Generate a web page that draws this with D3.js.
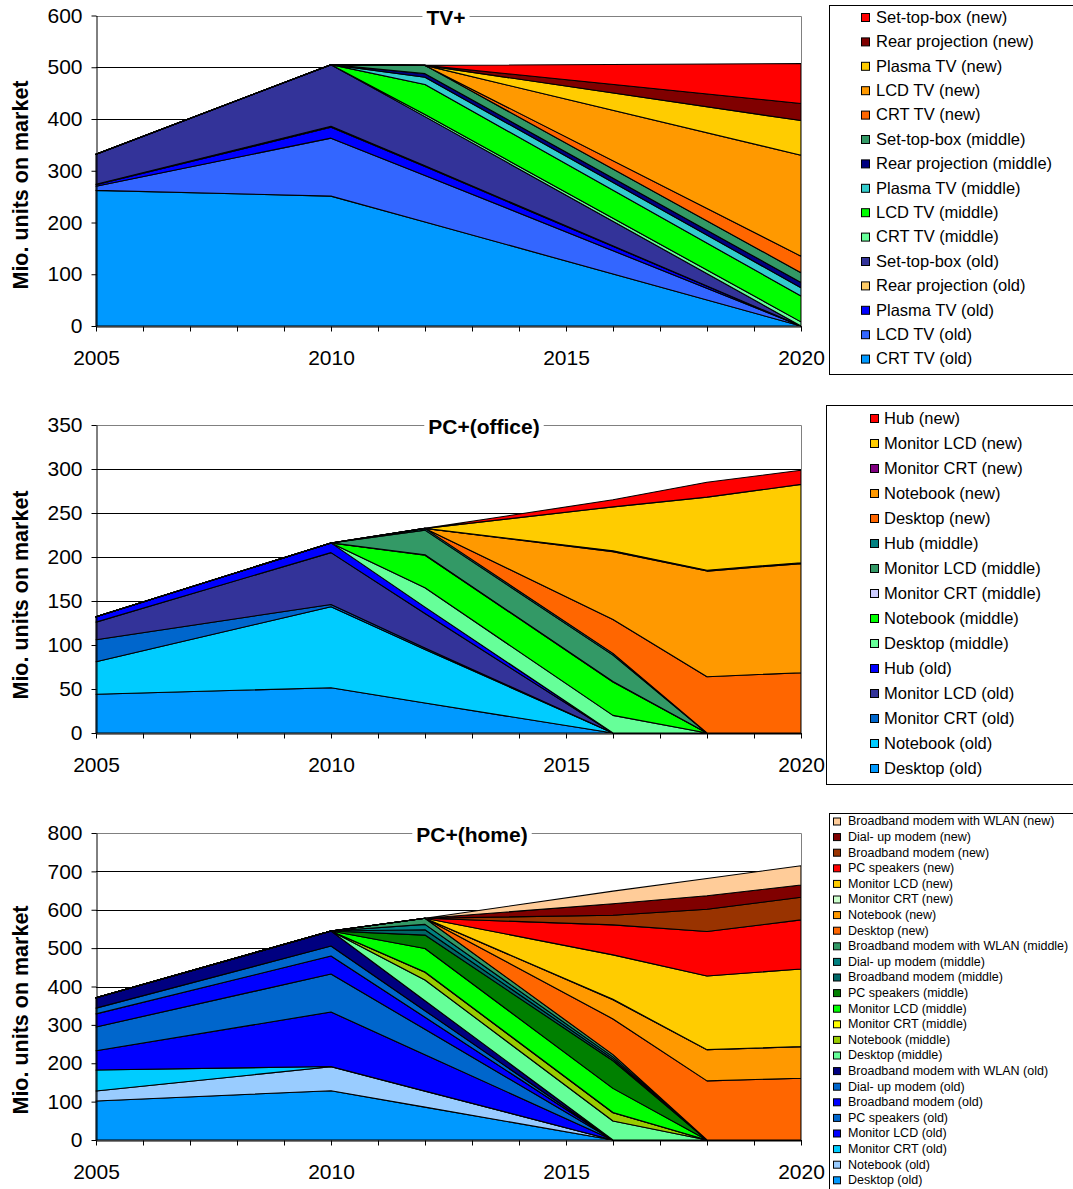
<!DOCTYPE html>
<html>
<head>
<meta charset="utf-8">
<script src="https://cdn.jsdelivr.net/npm/d3@7"></script>
<style>
body { margin: 0; background: #fff; }
svg text { font-family: "Liberation Sans", Arial, sans-serif; fill: #000; }
</style>
</head>
<body>
<svg id="chart" width="1073" height="1189"></svg>
<script>
// ---- TV+ (stack order: bottom first) ----
var tvYears = [2005, 2010, 2012, 2020];
var tvNames = ['CRT TV (old)', 'LCD TV (old)', 'Plasma TV (old)', 'Rear projection (old)', 'Set-top-box (old)',
    'CRT TV (middle)', 'LCD TV (middle)', 'Plasma TV (middle)', 'Rear projection (middle)', 'Set-top-box (middle)',
    'CRT TV (new)', 'LCD TV (new)', 'Plasma TV (new)', 'Rear projection (new)', 'Set-top-box (new)'];
var tvValues = [
    [262, 251, 201, 0],
    [8, 112, 90, 0],
    [3, 21, 17, 0],
    [1, 2, 1.6, 0],
    [58, 119, 95, 0],
    [0, 0, 4, 8],
    [0, 0, 58, 50],
    [0, 0, 14, 16],
    [0, 0, 7, 10],
    [0, 0, 16, 19],
    [0, 0, 0, 32],
    [0, 0, 0, 195],
    [0, 0, 0, 67],
    [0, 0, 0, 33],
    [0, 0, 0, 77]
];
var tvColors = ['#0099FF', '#3366FF', '#0000FF', '#FFCC66', '#333399', '#66FF99', '#00FF00', '#33CCCC',
    '#000080', '#339966', '#FF6600', '#FF9900', '#FFCC00', '#800000', '#FF0000'];

// ---- PC+(office) ----
var officeYears = [2005, 2010, 2012, 2016, 2018, 2020];
var officeNames = ['Desktop (old)', 'Notebook (old)', 'Monitor CRT (old)', 'Monitor LCD (old)', 'Hub (old)',
    'Desktop (middle)', 'Notebook (middle)', 'Monitor CRT (middle)', 'Monitor LCD (middle)', 'Hub (middle)',
    'Desktop (new)', 'Notebook (new)', 'Monitor CRT (new)', 'Monitor LCD (new)', 'Hub (new)'];
var officeValues = [
    [44, 51.5, 34, 0, 0, 0],
    [37, 92, 61, 0, 0, 0],
    [25, 2.5, 1.7, 0, 0, 0],
    [20, 59, 39, 0, 0, 0],
    [6, 11, 7.3, 0, 0, 0],
    [0, 0, 22, 20, 0, 0],
    [0, 0, 37, 38, 0, 0],
    [0, 0, 0.5, 0.5, 0, 0],
    [0, 0, 28, 30, 0, 0],
    [0, 0, 2, 2, 0, 0],
    [0, 0, 0, 38.5, 64, 68.5],
    [0, 0, 0, 77, 120, 124],
    [0, 0, 0, 1, 1, 1],
    [0, 0, 0, 50, 83, 89],
    [0, 0, 0, 8, 17, 16]
];
var officeColors = ['#0099FF', '#00CCFF', '#0066CC', '#333399', '#0000FF', '#66FF99', '#00FF00', '#CCCCFF',
    '#339966', '#008080', '#FF6600', '#FF9900', '#800080', '#FFCC00', '#FF0000'];

// ---- PC+(home) ----
var homeYears = [2005, 2010, 2012, 2016, 2018, 2020];
var homeNames = ['Desktop (old)', 'Notebook (old)', 'Monitor CRT (old)', 'Monitor LCD (old)', 'PC speakers (old)',
    'Broadband modem (old)', 'Dial- up modem (old)', 'Broadband modem with WLAN (old)',
    'Desktop (middle)', 'Notebook (middle)', 'Monitor CRT (middle)', 'Monitor LCD (middle)', 'PC speakers (middle)',
    'Broadband modem (middle)', 'Dial- up modem (middle)', 'Broadband modem with WLAN (middle)',
    'Desktop (new)', 'Notebook (new)', 'Monitor CRT (new)', 'Monitor LCD (new)', 'PC speakers (new)',
    'Broadband modem (new)', 'Dial- up modem (new)', 'Broadband modem with WLAN (new)'];
var homeValues = [
    [101.6, 128.5, 85.7, 0, 0, 0],
    [26, 62.5, 41.7, 0, 0, 0],
    [55, 0.5, 0.3, 0, 0, 0],
    [50, 142, 94.7, 0, 0, 0],
    [62, 99, 66, 0, 0, 0],
    [34, 47, 31.3, 0, 0, 0],
    [15, 26, 17.3, 0, 0, 0],
    [27, 39, 26, 0, 0, 0],
    [0, 0, 54, 49.5, 0, 0],
    [0, 0, 20, 21.5, 0, 0],
    [0, 0, 1, 0.5, 0, 0],
    [0, 0, 61, 63, 0, 0],
    [0, 0, 35, 72, 0, 0],
    [0, 0, 14, 5, 0, 0],
    [0, 0, 14, 5, 0, 0],
    [0, 0, 16, 6, 0, 0],
    [0, 0, 0, 93, 154, 161],
    [0, 0, 0, 50, 81, 82],
    [0, 0, 0, 1, 0.5, 0.5],
    [0, 0, 0, 116, 192, 202],
    [0, 0, 0, 78, 116, 128],
    [0, 0, 0, 25, 58, 59],
    [0, 0, 0, 30, 35, 32],
    [0, 0, 0, 33, 45, 50]
];
var homeColors = ['#0099FF', '#99CCFF', '#00CCFF', '#0000FF', '#0066CC', '#0000FF', '#0066CC', '#000080',
    '#66FF99', '#99CC00', '#FFFF00', '#00FF00', '#008000', '#006666', '#008080', '#339966',
    '#FF6600', '#FF9900', '#CCFFCC', '#FFCC00', '#FF0000', '#993300', '#800000', '#FFCC99'];

var svg = d3.select('#chart');
var plotLeft = 96, plotRight = 801;

function drawChart(cfg) {
    var g = svg.append('g');
    var x = d3.scaleLinear().domain([2005, 2020]).range([plotLeft, plotRight]);
    var y = d3.scaleLinear().domain([0, cfg.max]).range([cfg.bottom, cfg.top]);

    // horizontal gridlines
    g.selectAll('line.grid')
        .data(d3.range(cfg.step, cfg.max, cfg.step))
        .enter()
        .append('line')
        .attr('x1', plotLeft).attr('x2', plotRight)
        .attr('y1', d => Math.round(y(d)) + 0.5).attr('y2', d => Math.round(y(d)) + 0.5)
        .attr('stroke', '#000').attr('stroke-width', 1);

    // stacked areas
    var rows = cfg.years.map(function(yr, i) {
        var row = { year: yr };
        cfg.names.forEach(function(n, j) { row[n] = cfg.values[j][i]; });
        return row;
    });
    var series = d3.stack().keys(cfg.names)(rows);
    var area = d3.area()
        .x(d => x(d.data.year))
        .y0(d => y(d[0]))
        .y1(d => y(d[1]));
    g.selectAll('path.area')
        .data(series)
        .enter()
        .append('path')
        .attr('d', area)
        .attr('fill', (d, i) => cfg.colors[i])
        .attr('stroke', '#000')
        .attr('stroke-width', 1.1)
        .attr('stroke-linejoin', 'round');

    // plot area border (top / right, grey)
    g.append('path')
        .attr('d', 'M' + plotLeft + ',' + (Math.round(cfg.top) + 0.5) + 'H' + (plotRight + 0.5) + 'V' + cfg.bottom)
        .attr('fill', 'none').attr('stroke', '#808080').attr('stroke-width', 1);

    // y axis
    var yAxis = d3.axisLeft(y).tickValues(d3.range(0, cfg.max + 1, cfg.step))
        .tickSizeInner(5).tickSizeOuter(0).tickPadding(9).tickFormat(d3.format('d'));
    var yAxisGroup = g.append('g').attr('transform', 'translate(' + (plotLeft + 0.5) + ',0)').call(yAxis);
    yAxisGroup.selectAll('text').attr('font-size', 21).attr('font-family', '"Liberation Sans", Arial, sans-serif');
    yAxisGroup.selectAll('path, line').attr('stroke', '#000');

    // x axis, yearly ticks with labels every 5 years
    var xAxis = d3.axisBottom(x).tickValues(d3.range(2005, 2021))
        .tickSizeInner(5).tickSizeOuter(0).tickPadding(19)
        .tickFormat(d => d % 5 === 0 ? d : '');
    var xAxisGroup = g.append('g').attr('transform', 'translate(0,' + (cfg.bottom + 0.5) + ')').call(xAxis);
    xAxisGroup.selectAll('text').attr('font-size', 21).attr('font-family', '"Liberation Sans", Arial, sans-serif');
    xAxisGroup.selectAll('path, line').attr('stroke', '#000');

    // y axis title
    g.append('text')
        .attr('transform', 'translate(28,' + cfg.titleCenter + ') rotate(-90)')
        .attr('text-anchor', 'middle')
        .attr('font-size', 21.5).attr('font-weight', 'bold')
        .text('Mio. units on market');

    // chart title over a white patch
    var patch = g.append('rect').attr('fill', '#fff');
    var title = g.append('text')
        .attr('x', cfg.titleX).attr('y', cfg.top + 9)
        .attr('text-anchor', 'middle')
        .attr('font-size', 21).attr('font-weight', 'bold')
        .text(cfg.title);
    var bb = title.node().getBBox();
    patch.attr('x', bb.x - 4).attr('y', bb.y).attr('width', bb.width + 8).attr('height', bb.height);

    // legend, top entry = top of the stack
    var lg = cfg.legend;
    var legendG = g.append('g');
    legendG.append('rect')
        .attr('x', lg.x + 0.5).attr('y', lg.y + 0.5).attr('width', 300).attr('height', lg.h)
        .attr('fill', '#fff').attr('stroke', '#000').attr('stroke-width', 1);
    var items = cfg.names.map((n, i) => ({ name: n, color: cfg.colors[i] })).reverse();
    var entry = legendG.selectAll('g.entry')
        .data(items)
        .enter()
        .append('g')
        .attr('transform', (d, i) => 'translate(0,' + (lg.first + i * lg.gap) + ')');
    entry.append('rect')
        .attr('x', lg.sx + 0.5).attr('y', -lg.size / 2 + 0.5)
        .attr('width', lg.size).attr('height', lg.size)
        .attr('fill', d => d.color).attr('stroke', '#000').attr('stroke-width', 1);
    entry.append('text')
        .attr('x', lg.tx).attr('dy', '0.35em')
        .attr('font-size', lg.font)
        .text(d => d.name);
}

drawChart({
    years: tvYears, names: tvNames, values: tvValues, colors: tvColors,
    max: 600, step: 100, top: 15.5, bottom: 326, title: 'TV+', titleX: 446, titleCenter: 185,
    legend: { x: 829, y: 5, h: 369, first: 17, gap: 24.4, sx: 861, tx: 876, size: 8, font: 16.5 }
});

drawChart({
    years: officeYears, names: officeNames, values: officeValues, colors: officeColors,
    max: 350, step: 50, top: 425, bottom: 733, title: 'PC+(office)', titleX: 484, titleCenter: 595,
    legend: { x: 826, y: 405, h: 379, first: 418, gap: 25, sx: 870, tx: 884, size: 8, font: 16.5 }
});

drawChart({
    years: homeYears, names: homeNames, values: homeValues, colors: homeColors,
    max: 800, step: 100, top: 833, bottom: 1140, title: 'PC+(home)', titleX: 472, titleCenter: 1010,
    legend: { x: 829, y: 813, h: 400, first: 821, gap: 15.6, sx: 833, tx: 848, size: 7, font: 12.5 }
});
</script>
</body>
</html>
